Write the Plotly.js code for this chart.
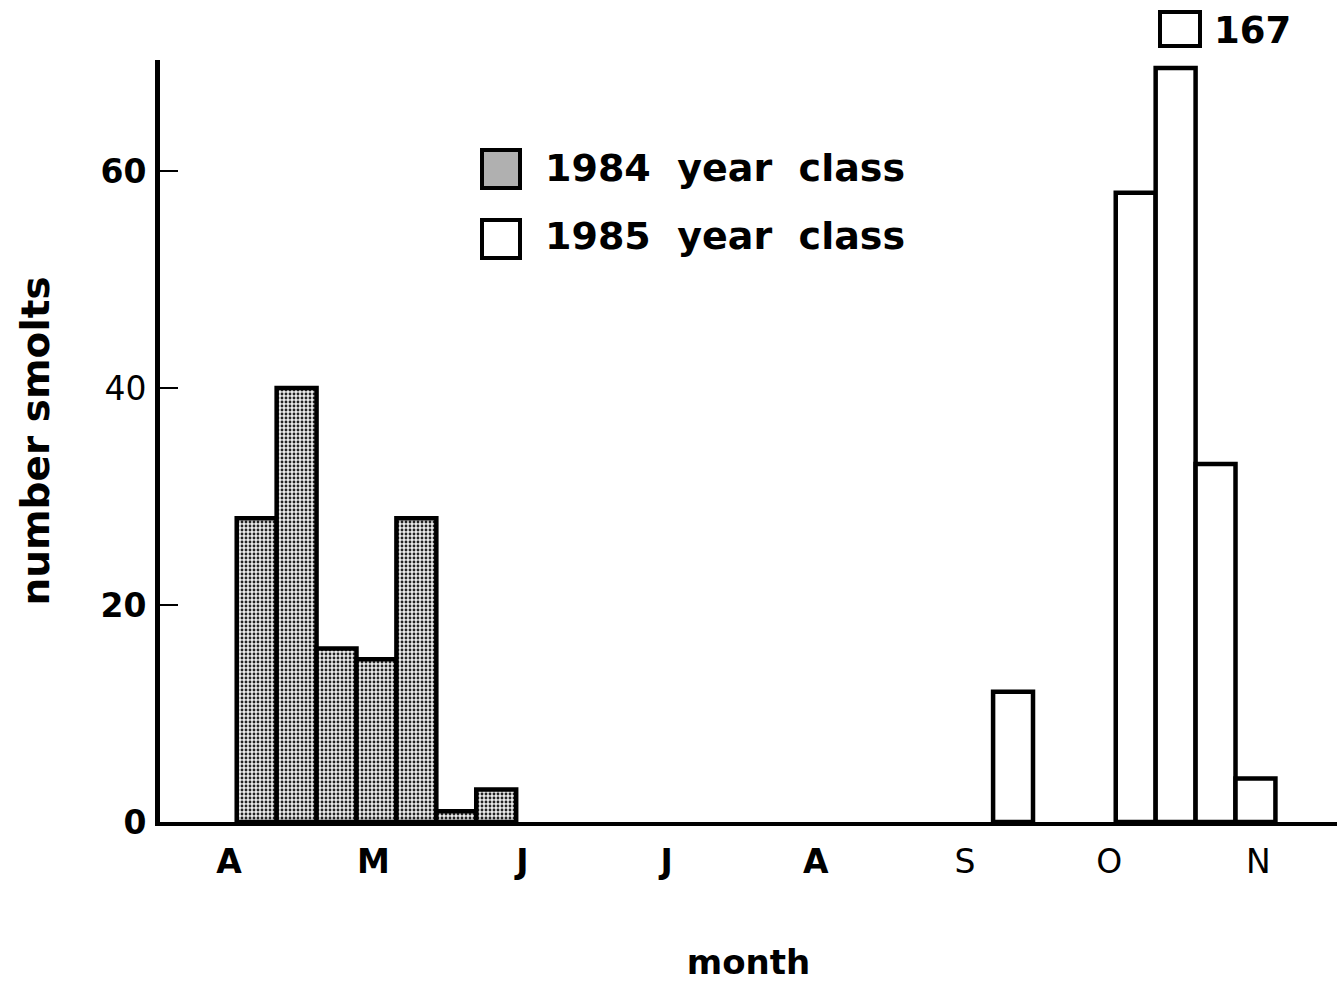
<!DOCTYPE html>
<html><head><meta charset="utf-8">
<script src="https://cdn.plot.ly/plotly-3.0.1.min.js"></script>
<style>html,body{margin:0;padding:0;background:#fff}#chart{width:1337px;height:982px}</style>
</head><body><div id="chart"></div>
<script>
// ---- data ----
const monthLabels = ['A', 'M', 'J', 'J', 'A', 'S', 'O', 'N'];
const monthStartDay = [0, 30, 61, 91, 122, 153, 183, 214];   // days after 1 April
const days1984 = [5.75, 14.05, 22.35, 30.65, 38.95, 47.25, 55.55];
const smolts1984 = [28, 40, 16, 15, 28, 1, 3];
const days1985 = [163.0, 188.5, 196.8, 205.1, 213.4];
const smolts1985 = [12, 58, 167, 33, 4];
const yTickVals = [0, 20, 40, 60];
const seriesNames = ['1984  year  class', '1985  year  class'];

// ---- presentation ----
const CAP = 69.5;          // broken-bar display cap
const BAR_W = 8.3;         // bar width in days
const FONT = 'DejaVu Sans, Liberation Sans, Arial, sans-serif';
const xBold = [true, true, true, true, true, false, false, false];
const yBold = [true, true, false, true];
const wrap = (t, b) => b ? '<b>' + t + '</b>' : t;

const shown1985 = smolts1985.map(v => Math.min(v, CAP));

const traces = [
  {
    type: 'bar', name: seriesNames[0], x: days1984, y: smolts1984, width: BAR_W,
    marker: {
      color: '#b8b8b8',
      line: {color: '#000', width: 4.5},
      pattern: {shape: '.', fgcolor: '#222', bgcolor: '#ebebeb', size: 4, solidity: 0.4, fillmode: 'replace'}
    },
    showlegend: false,
    hovertemplate: 'day %{x}: %{y}<extra>1984</extra>'
  },
  {
    type: 'bar', name: seriesNames[1], x: days1985, y: shown1985, width: BAR_W,
    customdata: smolts1985,
    marker: {color: '#ffffff', line: {color: '#000', width: 4.5}},
    showlegend: false,
    hovertemplate: 'day %{x}: %{customdata}<extra>1985</extra>'
  }
];

const L = 160, T = 60, W = 1177, H = 762;
const px = p => (p - L) / W;
const py = p => (T + H - p) / H;

const layout = {
  width: 1337, height: 982,
  margin: {l: L, r: 0, t: T, b: 982 - T - H, pad: 0},
  paper_bgcolor: '#fff', plot_bgcolor: '#fff',
  barmode: 'overlay', bargap: 0,
  font: {family: FONT, color: '#000', size: 33},
  xaxis: {
    range: [-14.35, 230.35], showgrid: false, zeroline: false,
    showline: true, linecolor: '#000', linewidth: 4,
    tickmode: 'array', tickvals: monthStartDay,
    ticktext: monthLabels.map((t, i) => wrap(t, xBold[i])),
    ticks: '', ticklabelstandoff: 7,
    tickfont: {family: FONT, size: 33, color: '#000'},
    title: {text: '<b>month</b>', font: {family: FONT, size: 34, color: '#000'}, standoff: 75},
    automargin: false, fixedrange: true
  },
  yaxis: {
    range: [0, H / 10.85], showgrid: false, zeroline: false,
    showline: true, linecolor: '#000', linewidth: 5,
    tickmode: 'array', tickvals: yTickVals,
    ticktext: yTickVals.map((t, i) => wrap(String(t), yBold[i])),
    ticks: 'inside', ticklen: 18, tickwidth: 2, tickcolor: '#000',
    ticklabelstandoff: 2,
    tickfont: {family: FONT, size: 33, color: '#000'},
    title: {text: '<b>number smolts</b>', font: {family: FONT, size: 39, color: '#000'}, standoff: 40},
    automargin: false, fixedrange: true
  },
  shapes: [
    {type: 'rect', xref: 'paper', yref: 'paper', x0: px(482), x1: px(520), y0: py(188), y1: py(150),
     fillcolor: '#b0b0b0', line: {color: '#000', width: 4}},
    {type: 'rect', xref: 'paper', yref: 'paper', x0: px(482), x1: px(520), y0: py(258), y1: py(220),
     fillcolor: '#fff', line: {color: '#000', width: 4}},
    {type: 'rect', xref: 'paper', yref: 'paper', x0: px(1160), x1: px(1200), y0: py(46), y1: py(12),
     fillcolor: '#fff', line: {color: '#000', width: 4}}
  ],
  annotations: [
    {xref: 'paper', yref: 'paper', x: px(543), y: py(168), xanchor: 'left', yanchor: 'middle', showarrow: false,
     text: '<b>' + seriesNames[0] + '</b>', font: {family: FONT, size: 38, color: '#000'}},
    {xref: 'paper', yref: 'paper', x: px(543), y: py(236), xanchor: 'left', yanchor: 'middle', showarrow: false,
     text: '<b>' + seriesNames[1] + '</b>', font: {family: FONT, size: 38, color: '#000'}},
    {xref: 'paper', yref: 'paper', x: px(1212), y: py(30), xanchor: 'left', yanchor: 'middle', showarrow: false,
     text: '<b>' + smolts1985[2] + '</b>', font: {family: FONT, size: 37, color: '#000'}}
  ]
};

Plotly.newPlot('chart', traces, layout, {displayModeBar: false, staticPlot: true});
</script>
</body></html>
